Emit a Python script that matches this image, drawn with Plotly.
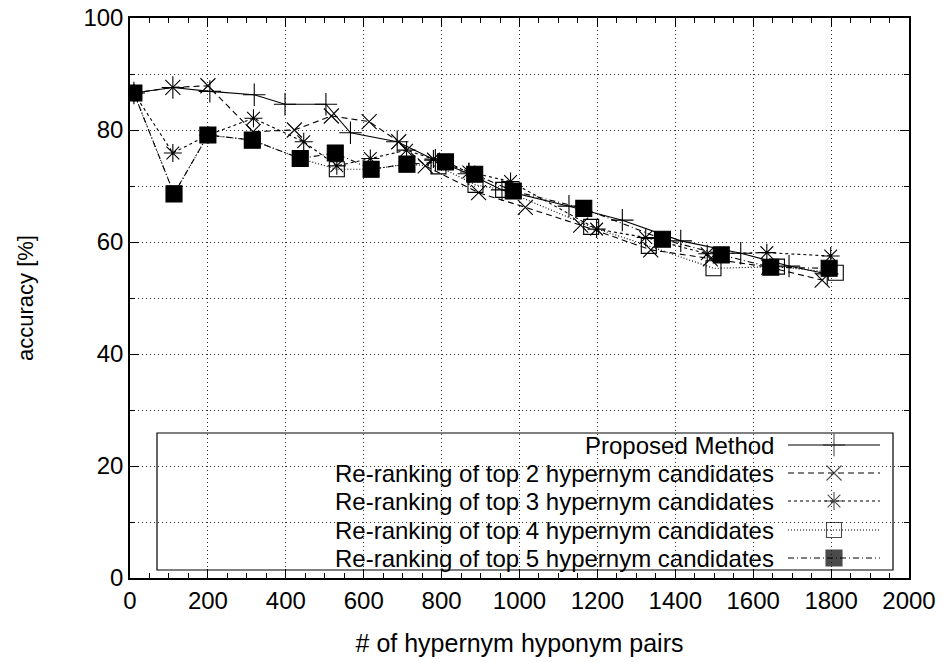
import plotly.graph_objects as go

# ---------------- data ----------------
names = [
    "Proposed Method",
    "Re-ranking of top 2 hypernym candidates",
    "Re-ranking of top 3 hypernym candidates",
    "Re-ranking of top 4 hypernym candidates",
    "Re-ranking of top 5 hypernym candidates",
]

prop_x = [10, 110, 205, 319, 398, 503, 566, 686, 784, 870, 955, 1127, 1264, 1414, 1568, 1692, 1790]
prop_y = [86.6, 87.6, 86.9, 86.3, 84.6, 84.6, 79.5, 77.9, 74.6, 72.2, 69.3, 66.4, 63.9, 60.2, 58.0, 55.7, 54.3]

top2_x = [10, 110, 200, 316, 422, 517, 614, 690, 758, 895, 1015, 1157, 1337, 1490, 1640, 1777]
top2_y = [86.6, 87.6, 87.9, 79.7, 80.0, 82.5, 81.5, 77.9, 73.6, 68.8, 66.2, 63.0, 58.6, 57.0, 55.5, 53.2]

top3_x = [10, 110, 200, 317, 446, 531, 617, 710, 779, 870, 977, 1198, 1324, 1482, 1635, 1799]
top3_y = [86.6, 75.9, 79.1, 82.1, 77.9, 73.6, 74.9, 76.4, 74.8, 72.5, 70.8, 62.3, 60.8, 57.9, 58.1, 57.5]

top4_x = [10, 113, 200, 314, 437, 531, 619, 711, 792, 887, 958, 1184, 1332, 1498, 1661, 1812]
top4_y = [86.6, 68.6, 79.1, 78.2, 74.9, 73.0, 73.0, 73.9, 73.5, 70.2, 69.3, 62.7, 59.3, 55.3, 55.6, 54.5]

top5_x = [10, 113, 200, 314, 437, 527, 619, 711, 810, 885, 984, 1165, 1367, 1518, 1645, 1795]
top5_y = [86.6, 68.6, 79.1, 78.2, 74.9, 75.9, 73.0, 73.9, 74.3, 72.1, 69.1, 66.0, 60.5, 57.7, 55.5, 55.3]

x_ticks = [0, 200, 400, 600, 800, 1000, 1200, 1400, 1600, 1800, 2000]
y_ticks = [0, 20, 40, 60, 80, 100]

# ---------------- styles ----------------
FONT = "Liberation Sans"
series = [
    (prop_x, prop_y, "solid", "cross-thin-open", 16),
    (top2_x, top2_y, "6px,4px", "x-thin-open", 15),
    (top3_x, top3_y, "3px,3px", "asterisk-open", 15),
    (top4_x, top4_y, "1px,2px", "square-open", 15),
    (top5_x, top5_y, "6px,3px,1px,3px", "square", 16),
]

fig = go.Figure()

for (xs, ys, dash, sym, sz), nm in zip(series, names):
    fig.add_trace(go.Scatter(
        x=xs, y=ys, name=nm, mode="lines+markers",
        line=dict(color="black", width=1.1, dash=dash),
        marker=dict(symbol=sym, size=sz, color="black",
                    line=dict(color="black", width=1.1)),
        showlegend=False,
    ))

# ---------------- gnuplot-style key (drawn manually) ----------------
W_PLOT = 779.0
H_PLOT = 560.0
def fx(px):
    return (px - 130) / W_PLOT
def fy(py):
    return (578 - py) / H_PLOT

fig.add_shape(type="rect", xref="paper", yref="paper",
              x0=fx(157), x1=fx(893), y0=fy(570), y1=fy(433),
              line=dict(color="black", width=1.2), fillcolor="white",
              layer="between")

rows = [445, 473, 501, 530, 558]
for (xs, ys, dash, sym, sz), nm, ry in zip(series, names, rows):
    fig.add_trace(go.Scatter(
        x=[fx(788), fx(834), fx(880)], y=[fy(ry)] * 3,
        xaxis="x2", yaxis="y2", mode="lines+markers",
        line=dict(color="black", width=1.1, dash=dash),
        marker=dict(symbol=sym, size=[0, sz, 0], color="black",
                    line=dict(color="black", width=1.1)),
        showlegend=False, hoverinfo="skip",
    ))
    fig.add_annotation(x=fx(776), y=fy(ry), xref="paper", yref="paper",
                       text=nm, showarrow=False, xanchor="right", yanchor="middle",
                       font=dict(family=FONT, size=24, color="black"))

axis_common = dict(
    showline=True, linecolor="black", linewidth=1.5, mirror="allticks",
    ticks="inside", tickcolor="black", ticklen=9, tickwidth=1,
    tickfont=dict(family=FONT, size=24, color="black"),
    zeroline=False, automargin=False,
)

fig.update_layout(
    width=946, height=662,
    margin=dict(l=130, r=37, t=18, b=84),
    paper_bgcolor="white", plot_bgcolor="white",
    font=dict(family=FONT, color="black"),
    xaxis=dict(
        range=[0, 2000], tickvals=x_ticks, ticktext=[str(v) for v in x_ticks],
        showgrid=True, gridcolor="#333333", griddash="1px,3px", gridwidth=1,
        minor=dict(dtick=50, tick0=0, ticks="inside", ticklen=5, tickcolor="black", showgrid=False),
        title=dict(text="# of hypernym hyponym pairs", font=dict(family=FONT, size=25), standoff=22),
        **axis_common,
    ),
    yaxis=dict(
        range=[0, 100], tickvals=y_ticks, ticktext=[str(v) for v in y_ticks],
        showgrid=False,
        minor=dict(dtick=10, tick0=0, ticks="inside", ticklen=5, tickcolor="black",
                   showgrid=True, gridcolor="#333333", griddash="1px,3px", gridwidth=1),
        title=dict(text="accuracy [%]", font=dict(family=FONT, size=22), standoff=44),
        **axis_common,
    ),
    xaxis2=dict(range=[0, 1], overlaying="x", visible=False, domain=[0, 1]),
    yaxis2=dict(range=[0, 1], overlaying="y", visible=False, domain=[0, 1]),
)

fig.write_html("out.html")
